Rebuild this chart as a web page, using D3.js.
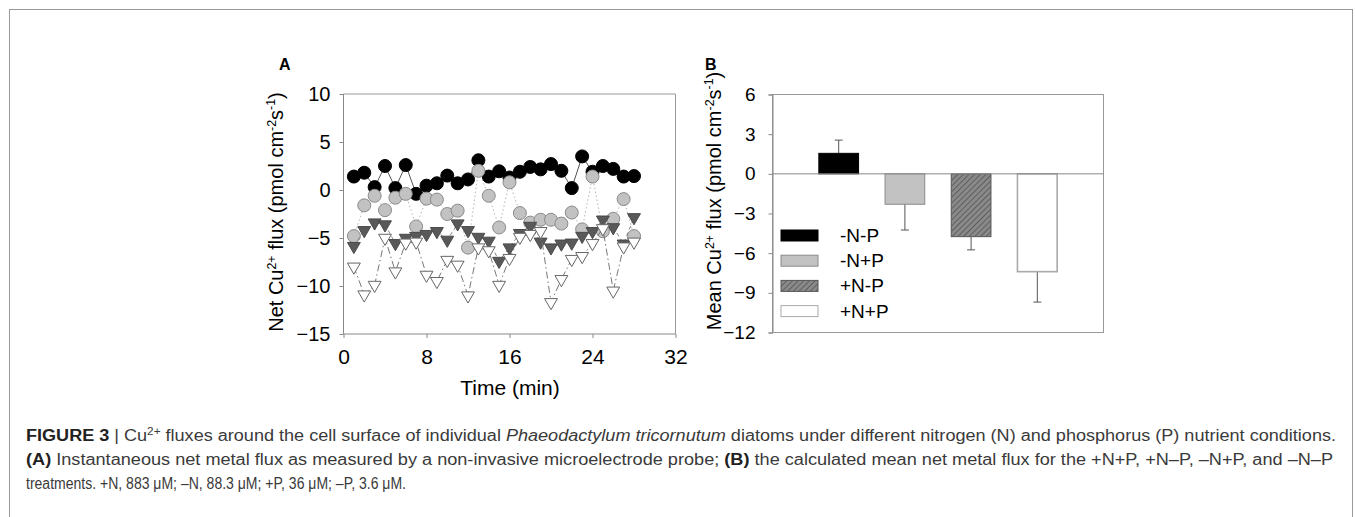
<!DOCTYPE html>
<html>
<head>
<meta charset="utf-8">
<script src="https://cdn.jsdelivr.net/npm/d3@7"></script>
<style>
  body { margin: 0; background: #fff; }
  svg { display: block; }
</style>
</head>
<body>
<div id="container"></div>
<script>
/* DATA */
const time = [1, 2, 3, 4, 5, 6, 7, 8, 9, 10, 11, 12, 13, 14, 15, 16, 17, 18, 19, 20, 21, 22, 23, 24, 25, 26, 27, 28];
const negNnegP = [1.4, 1.8, 0.3, 2.5, 0.2, 2.6, -0.4, 0.45, 0.7, 1.5, 0.7, 1.1, 3.1, 1.4, 1.95, 1.3, 1.9, 2.4, 2.15, 2.7, 2.0, 0.2, 3.5, 1.9, 2.5, 2.2, 1.4, 1.45];
const negNposP = [-4.8, -1.6, -0.6, -2.1, -0.8, -0.4, -3.8, -0.9, -1.0, -2.5, -2.15, -6.0, 2.0, -0.6, -3.9, 0.8, -2.4, -3.4, -3.1, -3.1, -3.5, -2.35, -4.1, 1.4, -4.3, -3.0, -0.95, -4.8];
const posNnegP = [-5.85, -4.2, -3.4, -3.6, -5.55, -5.0, -4.8, -4.6, -4.3, -5.2, -3.5, -4.2, -4.9, -5.3, -7.4, -6.0, -4.5, -3.75, -5.4, -6.0, -5.6, -5.5, -4.8, -4.3, -3.1, -3.9, -5.6, -2.85];
const posNposP = [-8.0, -10.9, -9.9, -5.0, -8.5, -5.5, -5.4, -8.85, -9.5, -7.3, -7.8, -11.0, -6.0, -6.3, -9.9, -7.1, -4.9, -4.6, -4.3, -11.7, -9.3, -7.2, -6.9, -5.55, -4.0, -10.5, -5.9, -5.4];

const treatments = ["-N-P", "-N+P", "+N-P", "+N+P"];
const meanFlux = [1.55, -2.3, -4.75, -7.4];
const fluxErr = [1.0, 1.95, 1.0, 2.3];

const timeTicks = [0, 8, 16, 24, 32];
const fluxTicksA = [-15, -10, -5, 0, 5, 10];
const fluxTicksB = [-12, -9, -6, -3, 0, 3, 6];

const width = 1355, height = 517;
const font = "Arial, 'Liberation Sans', sans-serif";

const svg = d3.select("#container")
  .append("svg")
  .attr("width", width)
  .attr("height", height)
  .style("font-family", font);

// hatch pattern for +N-P
const defs = svg.append("defs");
defs.append("pattern")
  .attr("id", "hatch")
  .attr("patternUnits", "userSpaceOnUse")
  .attr("width", 4).attr("height", 4)
  .attr("patternTransform", "rotate(45)")
  .call(p => {
    p.append("rect").attr("width", 4).attr("height", 4).attr("fill", "#8a8a8a");
    p.append("line").attr("x1", 0).attr("y1", 0).attr("x2", 0).attr("y2", 4)
      .attr("stroke", "#404040").attr("stroke-width", 1.2);
  });

// outer figure frame
svg.append("rect")
  .attr("x", 9.5).attr("y", 9.5)
  .attr("width", 1343).attr("height", 600)
  .attr("fill", "none").attr("stroke", "#9a9a9a");

/* PANEL A */
const xA = d3.scaleLinear().domain([0, 32]).range([343.5, 675.5]);
const yA = d3.scaleLinear().domain([-15, 10]).range([334, 94]);
const gA = svg.append("g");

// frame top and right
gA.append("path")
  .attr("d", `M${xA(0)},${yA(10)}H${xA(32)}V${yA(-15)}`)
  .attr("fill", "none").attr("stroke", "#999");

const axisA_y = gA.append("g")
  .attr("transform", `translate(${xA(0)},0)`)
  .call(d3.axisLeft(yA).tickValues(fluxTicksA).tickSize(4).tickPadding(9).tickFormat(d3.format("d")));
const axisA_x = gA.append("g")
  .attr("transform", `translate(0,${yA(-15)})`)
  .call(d3.axisBottom(xA).tickValues(timeTicks).tickSize(4).tickPadding(11));
[axisA_y, axisA_x].forEach(a => {
  a.selectAll("path, line").attr("stroke", "#888");
  a.selectAll("text").attr("fill", "#000").style("font-family", font);
});
axisA_y.selectAll("text").attr("font-size", 20);
axisA_x.selectAll("text").attr("font-size", 21);
axisA_y.select(".domain").attr("d", `M0,${yA(10)}V${yA(-15)}`);
axisA_x.select(".domain").attr("d", `M${xA(0)},0H${xA(32)}`);

const series = [
  { values: negNnegP, shape: "circle", fill: "#000", stroke: "#000", line: "#555", dash: null },
  { values: negNposP, shape: "circle", fill: "#c2c2c2", stroke: "#8a8a8a", line: "#b5b5b5", dash: "1.5,2.5" },
  { values: posNnegP, shape: "tri", fill: "#595959", stroke: "#4a4a4a", line: "#888", dash: "4,3" },
  { values: posNposP, shape: "tri", fill: "#fff", stroke: "#666", line: "#777", dash: "7,3,1.5,3" }
];

const tri = d3.symbol().type(d3.symbolTriangle).size(72);

series.forEach(s => {
  const pts = time.map((t, i) => ({ t, v: s.values[i] }));
  gA.append("path")
    .datum(pts)
    .attr("fill", "none")
    .attr("stroke", s.line)
    .attr("stroke-width", 1)
    .attr("stroke-dasharray", s.dash)
    .attr("d", d3.line().x(d => xA(d.t)).y(d => yA(d.v)));
  if (s.shape === "circle") {
    gA.selectAll(null).data(pts).enter().append("circle")
      .attr("cx", d => xA(d.t)).attr("cy", d => yA(d.v)).attr("r", 6.5)
      .attr("fill", s.fill).attr("stroke", s.stroke).attr("stroke-width", 1);
  } else {
    gA.selectAll(null).data(pts).enter().append("path")
      .attr("d", tri)
      .attr("transform", d => `translate(${xA(d.t)},${yA(d.v)}) rotate(180)`)
      .attr("fill", s.fill).attr("stroke", s.stroke).attr("stroke-width", 1);
  }
});

// labels A
gA.append("text").attr("x", 279).attr("y", 70)
  .attr("font-size", 16).attr("font-weight", "bold").text("A");

function fluxLabel(sel, prefix) {
  sel.append("tspan").text(prefix + "Cu");
  sel.append("tspan").attr("font-size", "0.62em").attr("dy", "-0.6em").text("2+");
  sel.append("tspan").attr("dy", "0.37em").text(" flux (pmol cm");
  sel.append("tspan").attr("font-size", "0.62em").attr("dy", "-0.6em").text("-2");
  sel.append("tspan").attr("dy", "0.37em").text("s");
  sel.append("tspan").attr("font-size", "0.62em").attr("dy", "-0.6em").text("-1");
  sel.append("tspan").attr("dy", "0.37em").text(")");
}

gA.append("text")
  .attr("transform", "translate(283,212) rotate(-90)")
  .attr("text-anchor", "middle")
  .attr("font-size", 20)
  .call(fluxLabel, "Net ");

gA.append("text")
  .attr("x", 510).attr("y", 395)
  .attr("text-anchor", "middle")
  .attr("font-size", 21)
  .text("Time (min)");

/* PANEL B */
const xB = d3.scalePoint().domain(treatments).range([772.5, 1103.5]).padding(1);
const yB = d3.scaleLinear().domain([-12, 6]).range([332.5, 94.5]);
const barW = xB.step() * 0.6;
const gB = svg.append("g");

gB.append("rect")
  .attr("x", xB.range()[0]).attr("y", yB(6))
  .attr("width", xB.range()[1] - xB.range()[0])
  .attr("height", yB(-12) - yB(6))
  .attr("fill", "none").attr("stroke", "#999");

const axisB_y = gB.append("g")
  .attr("transform", `translate(${xB.range()[0]},0)`)
  .call(d3.axisLeft(yB).tickValues(fluxTicksB).tickSize(4).tickPadding(13).tickFormat(d3.format("d")));
axisB_y.selectAll("path, line").attr("stroke", "#888");
axisB_y.selectAll("text").attr("fill", "#000").attr("font-size", 19).style("font-family", font);

const barStyle = [
  { fill: "#000", stroke: "#000" },
  { fill: "#c2c2c2", stroke: "#8a8a8a" },
  { fill: "url(#hatch)", stroke: "#555" },
  { fill: "#fff", stroke: "#aaa" }
];

// error bars (one-sided, away from zero)
gB.selectAll(".err").data(treatments).enter().append("g")
  .attr("class", "err")
  .each(function (d, i) {
    const v = meanFlux[i];
    const e = v >= 0 ? v + fluxErr[i] : v - fluxErr[i];
    const g = d3.select(this);
    g.append("line").attr("x1", xB(d)).attr("x2", xB(d))
      .attr("y1", yB(v)).attr("y2", yB(e)).attr("stroke", "#555");
    g.append("line").attr("x1", xB(d) - 4).attr("x2", xB(d) + 4)
      .attr("y1", yB(e)).attr("y2", yB(e)).attr("stroke", "#555");
  });

gB.selectAll(".bar").data(treatments).enter().append("rect")
  .attr("class", "bar")
  .attr("x", d => xB(d) - barW / 2)
  .attr("y", (d, i) => yB(Math.max(0, meanFlux[i])))
  .attr("width", barW)
  .attr("height", (d, i) => Math.abs(yB(meanFlux[i]) - yB(0)))
  .attr("fill", (d, i) => barStyle[i].fill)
  .attr("stroke", (d, i) => barStyle[i].stroke)
  .attr("stroke-width", (d, i) => i === 3 ? 1.6 : 1);

// zero line
gB.append("line")
  .attr("x1", xB.range()[0]).attr("x2", xB.range()[1])
  .attr("y1", yB(0)).attr("y2", yB(0))
  .attr("stroke", "#888");

// legend
const legend = gB.selectAll(".leg").data(treatments).enter().append("g")
  .attr("class", "leg")
  .attr("transform", (d, i) => `translate(781,${235.5 + i * 25.2})`);
legend.append("rect")
  .attr("x", 0).attr("y", -5.5).attr("width", 37).attr("height", 11)
  .attr("fill", (d, i) => barStyle[i].fill)
  .attr("stroke", (d, i) => barStyle[i].stroke);
legend.append("text")
  .attr("x", 59).attr("y", 6.5)
  .attr("font-size", 19)
  .text(d => d);

gB.append("text").attr("x", 705).attr("y", 70)
  .attr("font-size", 16).attr("font-weight", "bold").text("B");

gB.append("text")
  .attr("transform", "translate(721,201) rotate(-90)")
  .attr("text-anchor", "middle")
  .attr("font-size", 20)
  .call(fluxLabel, "Mean ");

/* CAPTION */
const cap = svg.append("g")
  .attr("font-size", 16)
  .attr("fill", "#3a3a3a");

const c1 = cap.append("text").attr("x", 26).attr("y", 441)
  .attr("textLength", 1310).attr("lengthAdjust", "spacingAndGlyphs");
c1.append("tspan").attr("font-weight", "bold").attr("fill", "#222").text("FIGURE 3");
c1.append("tspan").text(" | Cu");
c1.append("tspan").attr("font-size", "0.65em").attr("dy", "-0.55em").text("2+");
c1.append("tspan").attr("dy", "0.36em").text(" fluxes around the cell surface of individual ");
c1.append("tspan").attr("font-style", "italic").text("Phaeodactylum tricornutum");
c1.append("tspan").text(" diatoms under different nitrogen (N) and phosphorus (P) nutrient conditions.");

const c2 = cap.append("text").attr("x", 26).attr("y", 465)
  .attr("textLength", 1307).attr("lengthAdjust", "spacingAndGlyphs");
c2.append("tspan").attr("font-weight", "bold").attr("fill", "#222").text("(A)");
c2.append("tspan").text(" Instantaneous net metal flux as measured by a non-invasive microelectrode probe; ");
c2.append("tspan").attr("font-weight", "bold").attr("fill", "#222").text("(B)");
c2.append("tspan").text(" the calculated mean net metal flux for the +N+P, +N\u2013P, \u2013N+P, and \u2013N\u2013P");

cap.append("text").attr("x", 26).attr("y", 489)
  .attr("textLength", 380).attr("lengthAdjust", "spacingAndGlyphs")
  .text("treatments. +N, 883 \u03bcM; \u2013N, 88.3 \u03bcM; +P, 36 \u03bcM; \u2013P, 3.6 \u03bcM.");
</script>
</body>
</html>
